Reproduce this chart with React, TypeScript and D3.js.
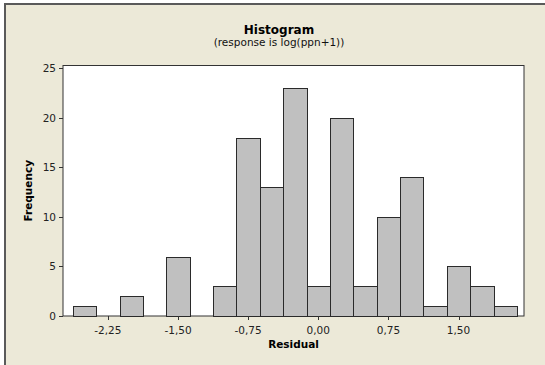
import { scaleLinear } from "d3";
import { useEffect } from "react";

// histogram bins (midpoint) and counts, bin width 0.25
const binMids = [-2.5, -2.25, -2.0, -1.75, -1.5, -1.25, -1.0, -0.75, -0.5, -0.25, 0.0, 0.25, 0.5, 0.75, 1.0, 1.25, 1.5, 1.75, 2.0];
const counts = [1, 0, 2, 0, 6, 0, 3, 18, 13, 23, 3, 20, 3, 10, 14, 1, 5, 3, 1];
const binWidth = 0.25;

const xTicks = [-2.25, -1.5, -0.75, 0, 0.75, 1.5];
const yTicks = [0, 5, 10, 15, 20, 25];

const title = "Histogram";
const subtitle = "(response is log(ppn+1))";
const xLabel = "Residual";
const yLabel = "Frequency";

const W = 545;
const H = 365;
const plot = { left: 63, right: 524, top: 65.5, bottom: 316 };
const font = "'DejaVu Sans', Verdana, sans-serif";

function fmt(v: number) {
  return v.toFixed(2).replace(".", ",");
}

export default function App() {
  useEffect(() => {
    document.body.style.margin = "0";
  }, []);

  const x = scaleLinear().domain([-2.73, 2.2]).range([plot.left, plot.right]);
  const y = scaleLinear().domain([0, 25.3]).range([plot.bottom, plot.top]);

  return (
    <svg width={W} height={H} style={{ display: "block", background: "#fff" }}>
      <rect x={5} y={4} width={W} height={H} fill="#ECE9D8" />
      <line x1={4} x2={W} y1={4} y2={4} stroke="#5a5a5a" strokeWidth={2} />
      <line x1={5} x2={5} y1={3} y2={H} stroke="#5a5a5a" strokeWidth={2} />

      <text x={279} y={34} textAnchor="middle" fontFamily={font} fontWeight="bold" fontSize={12} fill="#000">
        {title}
      </text>
      <text x={279} y={46} textAnchor="middle" fontFamily={font} fontSize={10.5} fill="#111">
        {subtitle}
      </text>

      <rect
        x={plot.left}
        y={plot.top}
        width={plot.right - plot.left}
        height={plot.bottom - plot.top}
        fill="#fff"
        stroke="#333"
        strokeWidth={1}
      />

      {binMids.map((m, i) =>
        counts[i] > 0 ? (
          <rect
            key={i}
            x={Math.round(x(m - binWidth / 2)) + 0.5}
            y={Math.round(y(counts[i])) + 0.5}
            width={Math.round(x(m + binWidth / 2)) - Math.round(x(m - binWidth / 2))}
            height={Math.round(y(0)) - Math.round(y(counts[i]))}
            fill="#C0C0C0"
            stroke="#2a2a2a"
            strokeWidth={1}
          />
        ) : null,
      )}

      {yTicks.map((t) => (
        <g key={t}>
          <line x1={plot.left - 4} x2={plot.left} y1={Math.round(y(t)) + 0.5} y2={Math.round(y(t)) + 0.5} stroke="#333" />
          <text
            x={plot.left - 7}
            y={y(t)}
            dy="0.35em"
            textAnchor="end"
            fontFamily={font}
            fontSize={10.5}
            fill="#222"
          >
            {t}
          </text>
        </g>
      ))}

      {xTicks.map((t) => (
        <g key={t}>
          <line x1={Math.round(x(t)) + 0.5} x2={Math.round(x(t)) + 0.5} y1={plot.bottom} y2={plot.bottom + 4} stroke="#333" />
          <text x={x(t)} y={334} textAnchor="middle" fontFamily={font} fontSize={10.5} fill="#222">
            {fmt(t)}
          </text>
        </g>
      ))}

      <text
        x={(plot.left + plot.right) / 2}
        y={348}
        textAnchor="middle"
        fontFamily={font}
        fontWeight="bold"
        fontSize={10.5}
        fill="#000"
      >
        {xLabel}
      </text>
      <text
        transform={`translate(32,${(plot.top + plot.bottom) / 2}) rotate(-90)`}
        textAnchor="middle"
        fontFamily={font}
        fontWeight="bold"
        fontSize={10.5}
        fill="#000"
      >
        {yLabel}
      </text>
    </svg>
  );
}
